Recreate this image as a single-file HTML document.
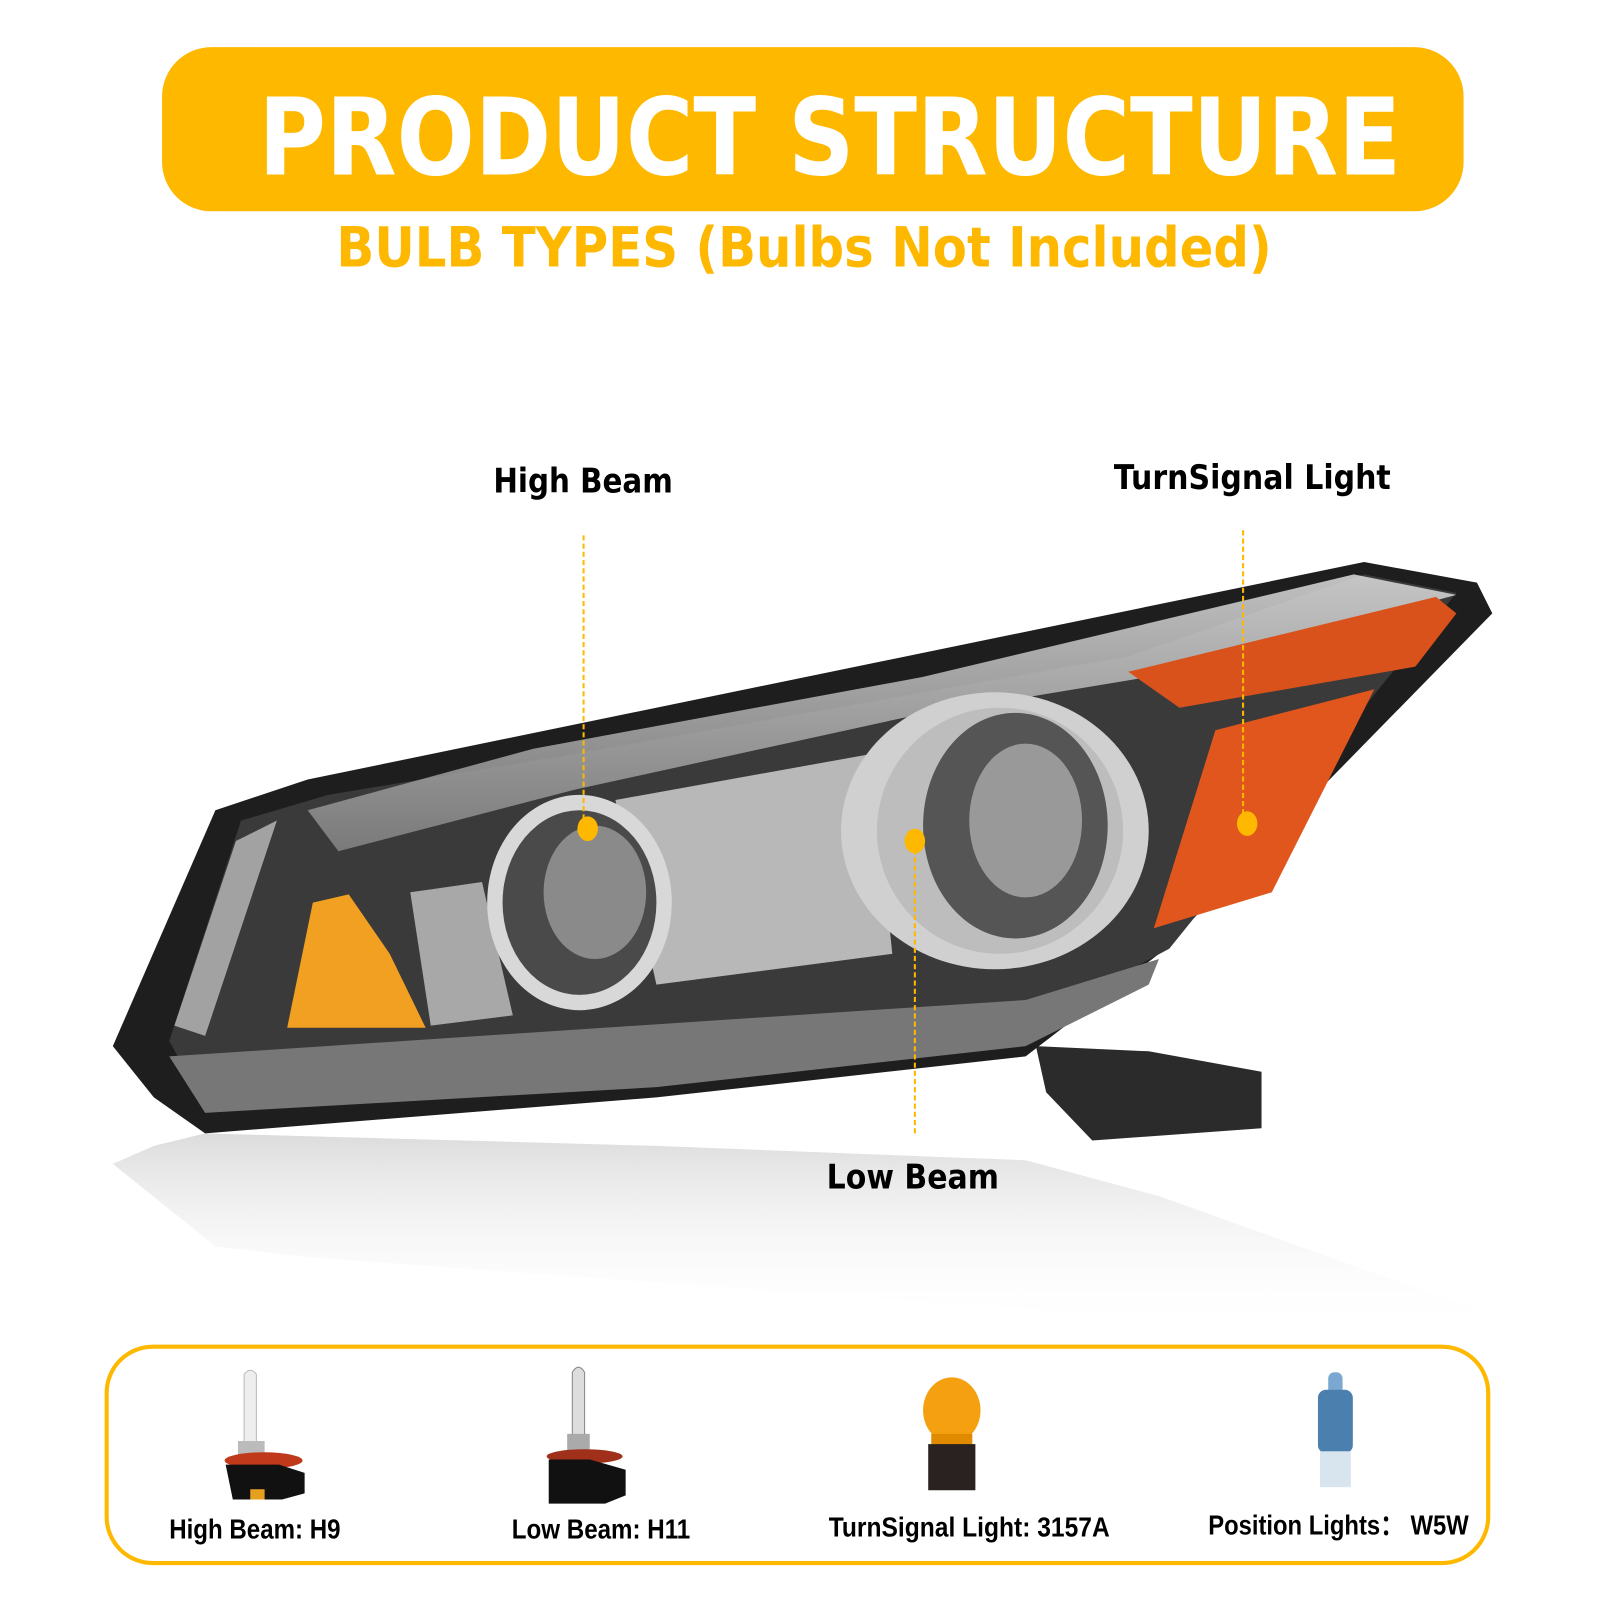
<!DOCTYPE html>
<html><head><meta charset="utf-8"><style>
html,body{margin:0;padding:0;background:#fff;width:1600px;height:1600px;overflow:hidden}
svg{display:block}
.t{font-family:"DejaVu Sans","Liberation Sans",sans-serif;font-weight:bold}
.n{font-family:"Liberation Sans",sans-serif;font-weight:bold}
</style></head><body>
<svg width="1600" height="1600" viewBox="0 0 1560 1560" xmlns="http://www.w3.org/2000/svg">
<defs>
<linearGradient id="rf" x1="0" y1="1" x2="0" y2="0">
<stop offset="0" stop-color="#b0b0b0" stop-opacity="0.45"/>
<stop offset="1" stop-color="#ffffff" stop-opacity="0"/>
</linearGradient>
<linearGradient id="chrome" x1="0" y1="0" x2="0" y2="1">
<stop offset="0" stop-color="#e8e8e8"/><stop offset="1" stop-color="#8a8a8a"/>
</linearGradient>
</defs>
<rect x="158" y="46" width="1269" height="160" rx="48" fill="#FFB800"/>
<text class="t" x="252" y="170" font-size="104" fill="#fff" textLength="1114" lengthAdjust="spacingAndGlyphs">PRODUCT STRUCTURE</text>
<text class="t" x="328" y="260" font-size="54" fill="#FFB800" textLength="912" lengthAdjust="spacingAndGlyphs">BULB TYPES (Bulbs Not Included)</text>

<!-- reflection -->
<g transform="translate(0,1491.75) scale(1,-0.35)">
<polygon points="110,1020 210,790 300,760 1330,548 1440,568 1455,598 1130,930 1000,1030 640,1070 200,1105 150,1070" fill="url(#rf)"/>
</g>

<!-- headlamp body -->
<polygon points="1010,1020 1120,1025 1230,1045 1230,1100 1065,1112 1020,1065" fill="#2b2b2b"/>
<polygon points="110,1020 210,790 300,760 1330,548 1440,568 1455,598 1130,930 1000,1030 640,1070 200,1105 150,1070" fill="#1e1e1e"/>
<polygon points="165,1015 235,800 320,775 560,735 1100,640 1330,560 1420,578 1140,925 1000,1000 640,1035 190,1060" fill="#3a3a3a"/>
<polygon points="300,790 520,730 900,660 1320,560 1420,580 1120,660 880,700 560,770 330,830" fill="url(#chrome)" opacity="0.8"/>
<polygon points="165,1030 1000,975 1130,935 1120,960 1000,1020 640,1060 200,1085" fill="#777"/>
<polygon points="170,1000 230,820 270,800 200,1010" fill="#cfcfcf" opacity="0.7"/>
<polygon points="1100,655 1400,582 1420,598 1380,650 1150,690" fill="#d9521c"/>
<polygon points="1125,905 1185,712 1340,672 1240,870" fill="#e0561c"/>
<polygon points="280,1002 305,880 340,872 380,930 415,1002" fill="#f2a022"/>
<polygon points="600,780 850,735 870,930 640,960" fill="#b8b8b8"/>
<polygon points="400,870 470,860 500,990 420,1000" fill="#a8a8a8"/>
<ellipse cx="565" cy="880" rx="90" ry="105" fill="#d8d8d8"/>
<ellipse cx="565" cy="880" rx="75" ry="90" fill="#4a4a4a"/>
<ellipse cx="580" cy="870" rx="50" ry="65" fill="#8a8a8a"/>
<ellipse cx="970" cy="810" rx="150" ry="135" fill="#d0d0d0"/>
<ellipse cx="975" cy="810" rx="120" ry="120" fill="#bdbdbd"/>
<ellipse cx="990" cy="805" rx="90" ry="110" fill="#555"/>
<ellipse cx="1000" cy="800" rx="55" ry="75" fill="#999"/>

<!-- callouts -->
<line x1="569" y1="522" x2="569" y2="808" stroke="#FFB800" stroke-width="2" stroke-dasharray="5,3"/>
<line x1="892" y1="820" x2="892" y2="1105" stroke="#FFB800" stroke-width="2" stroke-dasharray="5,3"/>
<line x1="1212" y1="517" x2="1212" y2="803" stroke="#FFB800" stroke-width="2" stroke-dasharray="5,3"/>
<ellipse cx="573" cy="808" rx="10" ry="12" fill="#FFB800"/>
<ellipse cx="892" cy="820" rx="10" ry="12" fill="#FFB800"/>
<ellipse cx="1216" cy="803" rx="10" ry="12" fill="#FFB800"/>
<text class="t" x="481" y="480" font-size="33" fill="#000" textLength="175" lengthAdjust="spacingAndGlyphs">High Beam</text>
<text class="t" x="1086" y="477" font-size="33" fill="#000" textLength="270" lengthAdjust="spacingAndGlyphs">TurnSignal Light</text>
<text class="t" x="806" y="1159" font-size="33" fill="#000" textLength="168" lengthAdjust="spacingAndGlyphs">Low Beam</text>

<!-- bottom box -->
<rect x="104" y="1313" width="1347" height="211" rx="45" fill="none" stroke="#FFB800" stroke-width="4"/>
<!-- H9 -->
<path d="M238,1340 q6,-8 12,0 v70 h-12z" fill="#eee" stroke="#bbb"/>
<rect x="232" y="1405" width="26" height="17" fill="#bbb"/>
<ellipse cx="257" cy="1424" rx="38" ry="8" fill="#c0391b"/>
<path d="M220,1428 h52 l25,8 v20 l-22,6 h-48z" fill="#111"/>
<rect x="244" y="1452" width="14" height="10" fill="#e6a020"/>
<!-- H11 -->
<path d="M558,1338 q6,-10 12,0 v62 h-12z" fill="#ddd" stroke="#888"/>
<rect x="553" y="1398" width="22" height="20" fill="#aaa"/>
<ellipse cx="570" cy="1420" rx="37" ry="7" fill="#a0301a"/>
<path d="M535,1423 h40 l35,10 v25 l-20,8 h-55z" fill="#111"/>
<!-- 3157A -->
<ellipse cx="928" cy="1375" rx="28" ry="32" fill="#f5a010"/>
<rect x="908" y="1398" width="40" height="12" fill="#e08a00"/>
<rect x="905" y="1408" width="46" height="45" fill="#2a2220"/>
<!-- W5W -->
<rect x="1295" y="1338" width="14" height="22" rx="6" fill="#7aa8d0"/>
<rect x="1285" y="1355" width="34" height="62" rx="8" fill="#4a7fae"/>
<rect x="1287" y="1415" width="30" height="35" fill="#d8e4ee"/>
<g class="n" font-size="27" fill="#000">
<text x="165" y="1500" textLength="167" lengthAdjust="spacingAndGlyphs">High Beam: H9</text>
<text x="499" y="1500" textLength="174" lengthAdjust="spacingAndGlyphs">Low Beam: H11</text>
<text x="808" y="1498" textLength="274" lengthAdjust="spacingAndGlyphs">TurnSignal Light: 3157A</text>
<text x="1178" y="1496" textLength="254" lengthAdjust="spacingAndGlyphs">Position Lights：  W5W</text>
</g>
</svg>
</body></html>
